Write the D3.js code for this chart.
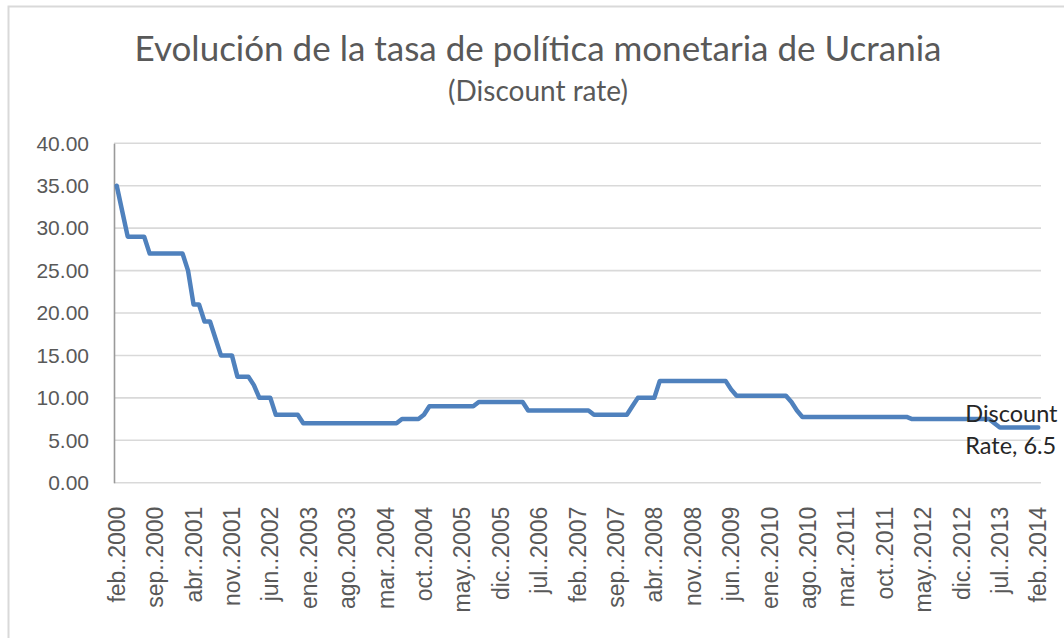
<!DOCTYPE html>
<html>
<head>
<meta charset="utf-8">
<script src="https://cdn.jsdelivr.net/npm/d3@7"></script>
<style>
  body { margin: 0; background: #fff; }
  svg { display: block; font-family: Lato, "Open Sans", sans-serif; }
</style>
</head>
<body>
<div id="chart"></div>
<script>
// Month names used to build the monthly categories (feb 2000 .. feb 2014)
var monthNames = ['ene', 'feb', 'mar', 'abr', 'may', 'jun', 'jul', 'ago', 'sep', 'oct', 'nov', 'dic'];

// Discount rate of the NBU, one value per month starting feb 2000
var rateValues = [
  35, 32, 29, 29, 29, 29, 27, 27, 27, 27, 27, 27,        // feb 2000 - ene 2001
  27, 25, 21, 21, 19, 19, 17, 15, 15, 15, 12.5, 12.5,    // feb 2001 - ene 2002
  12.5, 11.5, 10, 10, 10, 8, 8, 8, 8, 8, 7, 7,           // feb 2002 - ene 2003
  7, 7, 7, 7, 7, 7, 7, 7, 7, 7, 7, 7,                    // feb 2003 - ene 2004
  7, 7, 7, 7, 7.5, 7.5, 7.5, 7.5, 8, 9, 9, 9,            // feb 2004 - ene 2005
  9, 9, 9, 9, 9, 9, 9.5, 9.5, 9.5, 9.5, 9.5, 9.5,        // feb 2005 - ene 2006
  9.5, 9.5, 9.5, 8.5, 8.5, 8.5, 8.5, 8.5, 8.5, 8.5, 8.5, 8.5, // feb 2006 - ene 2007
  8.5, 8.5, 8.5, 8, 8, 8, 8, 8, 8, 8, 9, 10,             // feb 2007 - ene 2008
  10, 10, 10, 12, 12, 12, 12, 12, 12, 12, 12, 12,        // feb 2008 - ene 2009
  12, 12, 12, 12, 11, 10.25, 10.25, 10.25, 10.25, 10.25, 10.25, 10.25, // feb 2009 - ene 2010
  10.25, 10.25, 10.25, 9.5, 8.5, 7.75, 7.75, 7.75, 7.75, 7.75, 7.75, 7.75, // feb 2010 - ene 2011
  7.75, 7.75, 7.75, 7.75, 7.75, 7.75, 7.75, 7.75, 7.75, 7.75, 7.75, 7.75, // feb 2011 - ene 2012
  7.75, 7.5, 7.5, 7.5, 7.5, 7.5, 7.5, 7.5, 7.5, 7.5, 7.5, 7.5, // feb 2012 - ene 2013
  7.5, 7.5, 7.5, 7.5, 7, 6.5, 6.5, 6.5, 6.5, 6.5, 6.5, 6.5,    // feb 2013 - ene 2014
  6.5                                                     // feb 2014
];

// Every 7th month carries a label on the axis
var tickLabels = ['feb..2000', 'sep..2000', 'abr..2001', 'nov..2001', 'jun..2002', 'ene..2003',
  'ago..2003', 'mar..2004', 'oct..2004', 'may..2005', 'dic..2005', 'jul..2006', 'feb..2007',
  'sep..2007', 'abr..2008', 'nov..2008', 'jun..2009', 'ene..2010', 'ago..2010', 'mar..2011',
  'oct..2011', 'may..2012', 'dic..2012', 'jul..2013', 'feb..2014'];

var yTicks = [0, 5, 10, 15, 20, 25, 30, 35, 40];

var seriesName = 'Discount Rate';

// build category keys: "feb..2000", "mar..2000", ...
var categories = rateValues.map(function (d, i) {
  var m = (1 + i) % 12;
  var y = 2000 + Math.floor((1 + i) / 12);
  return monthNames[m] + '..' + y;
});

var svgWidth = 1064;
var svgHeight = 638;
var plot = { left: 114, right: 1041, top: 143.3, bottom: 482.7 };

var svg = d3.select('#chart')
  .append('svg')
  .attr('width', svgWidth)
  .attr('height', svgHeight);

// chart area border (runs off the right and bottom of the picture)
svg.append('rect')
  .attr('x', 8.5).attr('y', 6.5)
  .attr('width', 1200).attr('height', 800)
  .attr('fill', '#fff')
  .attr('stroke', '#d9d9d9')
  .attr('stroke-width', 2);

var x = d3.scaleBand()
  .domain(categories)
  .range([plot.left, plot.right]);

var y = d3.scaleLinear()
  .domain([0, 40])
  .range([plot.bottom, plot.top]);

// gridlines
svg.append('g')
  .selectAll('line')
  .data(yTicks)
  .enter()
  .append('line')
  .attr('x1', plot.left)
  .attr('x2', plot.right)
  .attr('y1', function (d) { return y(d); })
  .attr('y2', function (d) { return y(d); })
  .attr('stroke', '#d9d9d9')
  .attr('stroke-width', 1.6);

// y axis
var yAxis = svg.append('g')
  .attr('transform', 'translate(' + plot.left + ',0)')
  .call(d3.axisLeft(y).tickValues(yTicks).tickFormat(d3.format('.2f')).tickSize(0).tickPadding(25));
yAxis.select('.domain').attr('stroke', '#9a9a9a').attr('stroke-width', 1.6);
yAxis.selectAll('text')
  .attr('fill', '#595959')
  .style('font-size', '21px');

// x axis labels (rotated)
var xAxis = svg.append('g')
  .attr('transform', 'translate(0,' + plot.bottom + ')')
  .call(d3.axisBottom(x).tickValues(tickLabels).tickSize(0).tickPadding(0));
xAxis.select('.domain').remove();
xAxis.selectAll('text')
  .attr('fill', '#595959')
  .style('font-size', '23px')
  .attr('text-anchor', 'end')
  .attr('transform', 'translate(0,24) rotate(-90)')
  .attr('x', 0)
  .attr('y', 0)
  .attr('dy', '0.35em');

// the rate line
var line = d3.line()
  .x(function (d, i) { return x(categories[i]) + x.bandwidth() / 2; })
  .y(function (d) { return y(d); });

svg.append('path')
  .datum(rateValues)
  .attr('d', line)
  .attr('fill', 'none')
  .attr('stroke', '#4f81bd')
  .attr('stroke-width', 4.5)
  .attr('stroke-linejoin', 'round')
  .attr('stroke-linecap', 'round');

// data label on the last point
var last = rateValues.length - 1;
var lbl = svg.append('text')
  .attr('x', x(categories[last]) + x.bandwidth() / 2 - 73)
  .attr('y', y(rateValues[last]) - 6)
  .attr('fill', '#262626')
  .style('font-size', '23.5px');
lbl.append('tspan').text('Discount');
lbl.append('tspan')
  .attr('x', x(categories[last]) + x.bandwidth() / 2 - 73)
  .attr('dy', 32)
  .text('Rate, ' + rateValues[last]);

// titles
svg.append('text')
  .attr('x', 538).attr('y', 61)
  .attr('text-anchor', 'middle')
  .attr('fill', '#595959')
  .style('font-size', '35px')
  .text('Evolución de la tasa de política monetaria de Ucrania');

svg.append('text')
  .attr('x', 538).attr('y', 101)
  .attr('text-anchor', 'middle')
  .attr('fill', '#595959')
  .style('font-size', '28px')
  .text('(Discount rate)');
</script>
</body>
</html>
